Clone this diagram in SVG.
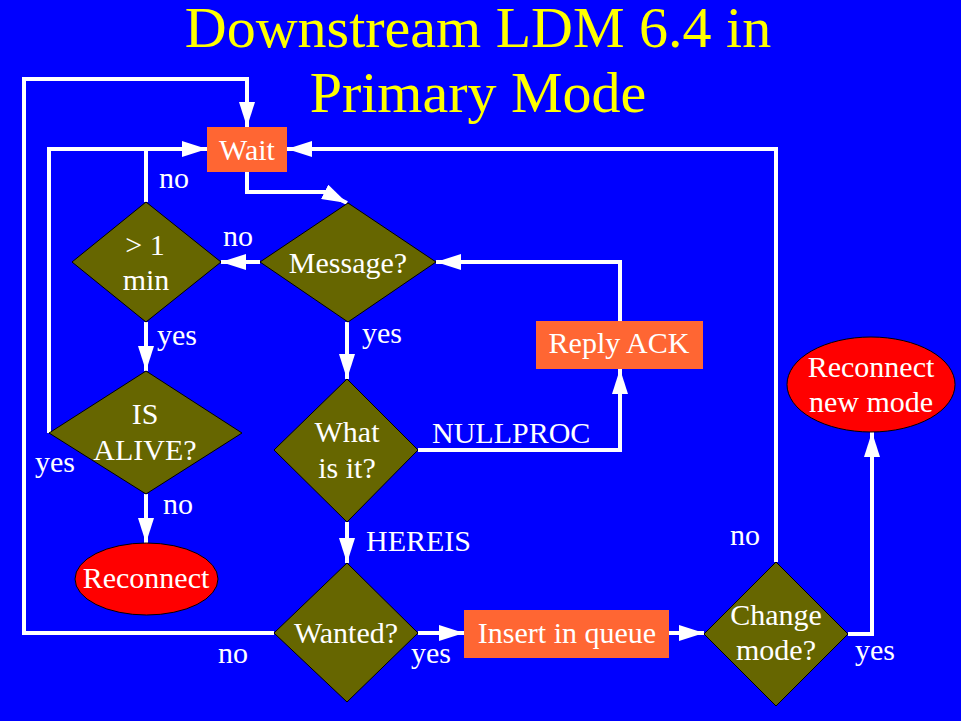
<svg xmlns="http://www.w3.org/2000/svg" width="961" height="721" viewBox="0 0 961 721">
<style>
.t{font-family:"Liberation Serif","Times New Roman",serif;fill:#fff;font-size:30px}
.c{text-anchor:middle}
.title{font-family:"Liberation Serif","Times New Roman",serif;fill:#ffff00;font-size:58px;text-anchor:middle}
.d{fill:#666600;stroke:#000;stroke-width:1}
.r{fill:#ff6633}
.e{fill:#ff0000;stroke:#000;stroke-width:1}
.l{fill:none;stroke:#fff;stroke-width:4}
.a{marker-end:url(#ah)}
</style>
<defs>
<marker id="ah" markerUnits="userSpaceOnUse" markerWidth="25" markerHeight="16" refX="25" refY="8" orient="auto" viewBox="0 0 25 16">
<path d="M0,0 L25,8 L0,16 z" fill="#fff"/>
</marker>
</defs>
<rect width="961" height="721" fill="#0000ff"/>
<text class="title" x="478" y="47">Downstream LDM 6.4 in</text>
<text class="title" x="478" y="112">Primary Mode</text>
<g id="connectors">
<path class="l a" d="M274,633 H24 V79 H247 V127"/>
<path class="l a" d="M49,433 V149 H207"/>
<path class="l" d="M146,202 V149"/>
<path class="l a" d="M776,562 V149 H287"/>
<path class="l a" d="M247,172 V192 H325 L347,203"/>
<path class="l a" d="M260,262 H221"/>
<path class="l a" d="M620,321 V262 H436"/>
<path class="l a" d="M418,450 H620 V369"/>
<path class="l a" d="M146,322 V371"/>
<path class="l a" d="M347,322 V379"/>
<path class="l a" d="M146,494 V543"/>
<path class="l a" d="M347,522 V563"/>
<path class="l a" d="M418,633 H464"/>
<path class="l a" d="M669,633 H704"/>
<path class="l a" d="M848,634 H872 V432"/>
</g>
<g id="labels">
<text class="t" x="159" y="188">no</text>
<text class="t" x="223" y="246">no</text>
<text class="t" x="157" y="345">yes</text>
<text class="t" x="362" y="343">yes</text>
<text class="t" x="35" y="472">yes</text>
<text class="t" x="163" y="514">no</text>
<text class="t" x="432" y="443">NULLPROC</text>
<text class="t" x="366" y="551">HEREIS</text>
<text class="t" x="218" y="663">no</text>
<text class="t" x="411" y="663">yes</text>
<text class="t" x="730" y="545">no</text>
<text class="t" x="855" y="660">yes</text>
</g>
<g id="wait">
<rect class="r" x="207" y="127" width="80" height="45"/>
<text class="t c" x="247" y="160">Wait</text>
</g>
<g id="min">
<polygon class="d" points="146,202 221,262 146,322 72,262"/>
<text class="t c" x="145" y="255">&gt; 1</text>
<text class="t c" x="146" y="290">min</text>
</g>
<g id="message">
<polygon class="d" points="348,203 436,262 348,322 260,262"/>
<text class="t c" x="348" y="273">Message?</text>
</g>
<g id="replyack">
<rect class="r" x="536" y="321" width="167" height="48"/>
<text class="t c" x="619" y="353">Reply ACK</text>
</g>
<g id="reconnectnew">
<ellipse class="e" cx="871" cy="384.5" rx="84" ry="47.5"/>
<text class="t c" x="871" y="377">Reconnect</text>
<text class="t c" x="871" y="412">new mode</text>
</g>
<g id="isalive">
<polygon class="d" points="146,371 242,433 146,494 49,433"/>
<text class="t c" x="145" y="424">IS</text>
<text class="t c" x="145" y="460">ALIVE?</text>
</g>
<g id="whatisit">
<polygon class="d" points="347,379 418,450 347,522 274,450"/>
<text class="t c" x="347" y="442">What</text>
<text class="t c" x="347" y="478">is it?</text>
</g>
<g id="reconnect">
<ellipse class="e" cx="146.5" cy="579" rx="71.5" ry="36"/>
<text class="t c" x="146" y="588">Reconnect</text>
</g>
<g id="wanted">
<polygon class="d" points="347,563 418,633 347,702 274,633"/>
<text class="t c" x="346" y="643">Wanted?</text>
</g>
<g id="insert">
<rect class="r" x="464" y="610" width="205" height="48"/>
<text class="t c" x="567" y="643">Insert in queue</text>
</g>
<g id="changemode">
<polygon class="d" points="776,562 848,634 776,706 704,634"/>
<text class="t c" x="776" y="625">Change</text>
<text class="t c" x="776" y="660">mode?</text>
</g>
</svg>
